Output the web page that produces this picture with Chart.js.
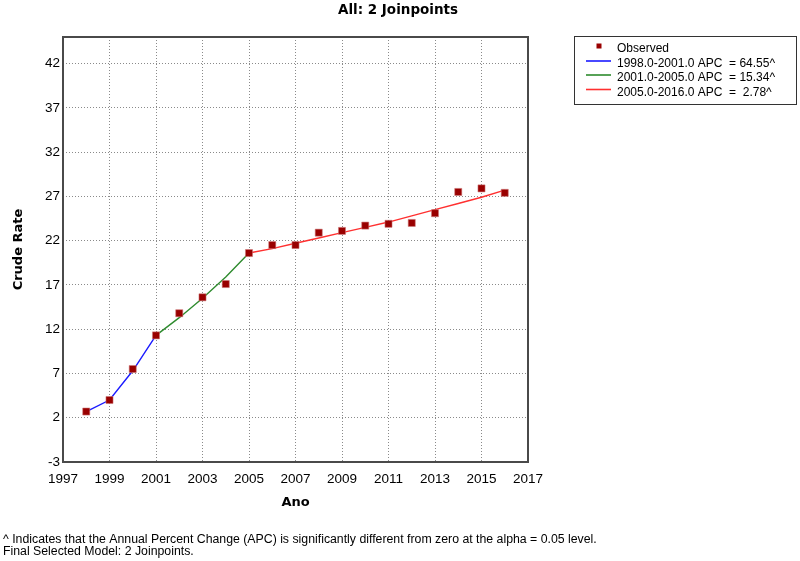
<!DOCTYPE html>
<html><head><meta charset="utf-8">
<script src="https://cdn.jsdelivr.net/npm/chart.js@4"></script>
<style>html,body{margin:0;padding:0;background:#fff}canvas{display:block}</style>
</head><body><canvas id="c" width="800" height="561"></canvas>
<script>
const chartTitle = 'All: 2 Joinpoints';
const xTitle = 'Ano';
const yTitle = 'Crude Rate';
const years = [1998,1999,2000,2001,2002,2003,2004,2005,2006,2007,2008,2009,2010,2011,2012,2013,2014,2015,2016];
const observed = [2.7,4.0,7.5,11.3,13.8,15.6,17.1,20.6,21.5,21.5,22.9,23.1,23.7,23.9,24.0,25.1,27.5,27.9,27.4];
const seg1Years = [1998,1999,2000,2001];
const seg1Fit = [2.7,4.0,7.3,11.3];
const seg2Years = [2001,2002,2003,2004,2005];
const seg2Fit = [11.3,13.3,15.5,17.9,20.6];
const seg3Years = [2005,2006,2007,2008,2009,2010,2011,2012,2013,2014,2015,2016];
const seg3Fit = [20.6,21.1,21.7,22.3,22.9,23.5,24.1,24.8,25.5,26.2,26.9,27.7];
const xTicks = [1997,1999,2001,2003,2005,2007,2009,2011,2013,2015,2017];
const yTicks = [-3,2,7,12,17,22,27,32,37,42];
const legendLabels = ['Observed','1998.0-2001.0 APC  = 64.55^','2001.0-2005.0 APC  = 15.34^','2005.0-2016.0 APC  =  2.78^'];
const footnotes = ['^ Indicates that the Annual Percent Change (APC) is significantly different from zero at the alpha = 0.05 level.','Final Selected Model: 2 Joinpoints.'];

const pts = (xs, ys) => xs.map((x, i) => ({x: x, y: ys[i]}));
const tickFont = {family: 'Liberation Sans, Arial, sans-serif', size: 13.5};
const boldFont = {family: 'DejaVu Sans, sans-serif', size: 13, weight: 'bold'};

const decor = {
  id: 'decor',
  afterDraw(chart) {
    const ctx = chart.ctx, a = chart.chartArea;
    ctx.save();
    // frame
    ctx.strokeStyle = '#4a4a4a';
    ctx.lineWidth = 2;
    ctx.strokeRect(a.left, a.top, a.right - a.left, a.bottom - a.top);
    // title
    ctx.fillStyle = '#000';
    ctx.font = 'bold 13.5px "DejaVu Sans", sans-serif';
    ctx.textAlign = 'center';
    ctx.textBaseline = 'middle';
    ctx.fillText(chartTitle, 398, 10);
    // legend
    ctx.lineWidth = 1;
    ctx.strokeStyle = '#333';
    ctx.strokeRect(574.5, 36.5, 222, 68);
    ctx.font = '12px "Liberation Sans", Arial, sans-serif';
    ctx.textAlign = 'left';
    const ds = chart.data.datasets;
    const rowsText = [49, 63.5, 78, 92.5];
    const rowsLine = [45.5, 61, 75, 89.5];
    ds.forEach((d, i) => {
      if (i === 0) {
        ctx.fillStyle = d.backgroundColor;
        ctx.fillRect(596.5, 43.5, 5, 5);
      } else {
        ctx.strokeStyle = d.borderColor;
        ctx.lineWidth = 1.6;
        ctx.beginPath();
        ctx.moveTo(586, rowsLine[i]);
        ctx.lineTo(611, rowsLine[i]);
        ctx.stroke();
      }
      ctx.fillStyle = '#000';
      ctx.fillText(d.label, 617, rowsText[i]);
    });
    // footnotes
    ctx.font = '12.3px "Liberation Sans", Arial, sans-serif';
    ctx.fillText(footnotes[0], 3, 540);
    ctx.fillText(footnotes[1], 3, 552);
    ctx.restore();
  }
};

new Chart(document.getElementById('c'), {
  type: 'line',
  data: {
    datasets: [
      {label: legendLabels[0], type: 'scatter', data: pts(years, observed), pointStyle: 'rect', pointRadius: 5, pointHoverRadius: 5,
       backgroundColor: '#990000', borderColor: 'rgba(205,120,120,0.55)', borderWidth: 1, showLine: false, order: 0},
      {label: legendLabels[1], data: pts(seg1Years, seg1Fit), borderColor: '#1a1aff', borderWidth: 1.4, pointRadius: 0, fill: false, tension: 0, order: 1},
      {label: legendLabels[2], data: pts(seg2Years, seg2Fit), borderColor: '#2e8b2e', borderWidth: 1.4, pointRadius: 0, fill: false, tension: 0, order: 1},
      {label: legendLabels[3], data: pts(seg3Years, seg3Fit), borderColor: '#ff3030', borderWidth: 1.4, pointRadius: 0, fill: false, tension: 0, order: 1}
    ]
  },
  options: {
    responsive: false,
    animation: false,
    devicePixelRatio: 1,
    layout: {padding: {left: 0, top: 37, right: 272, bottom: 0}},
    plugins: {legend: {display: false}, tooltip: {enabled: false}, title: {display: false}},
    scales: {
      x: {
        type: 'linear', min: 1997, max: 2017,
        afterBuildTicks: s => { s.ticks = xTicks.map(v => ({value: v})); },
        afterFit: s => { s.height = 99; },
        grid: {color: '#8a8a8a', lineWidth: 1, drawTicks: false},
        border: {display: false, dash: [1, 2]},
        ticks: {font: tickFont, color: '#000', padding: 9, maxRotation: 0, autoSkip: false, callback: v => String(v)},
        title: {display: true, text: xTitle, font: boldFont, color: '#000', padding: {top: 0, bottom: 51}}
      },
      y: {
        type: 'linear', min: -3, max: 45,
        afterBuildTicks: s => { s.ticks = yTicks.map(v => ({value: v})); },
        afterFit: s => { s.width = 63; },
        grid: {color: '#8a8a8a', lineWidth: 1, drawTicks: false},
        border: {display: false, dash: [1, 2]},
        ticks: {font: tickFont, color: '#000', padding: 3, autoSkip: false, callback: v => String(v)},
        title: {display: true, text: yTitle, font: boldFont, color: '#000', padding: {top: 11, bottom: 0}}
      }
    }
  },
  plugins: [decor]
});
</script>
</body></html>
